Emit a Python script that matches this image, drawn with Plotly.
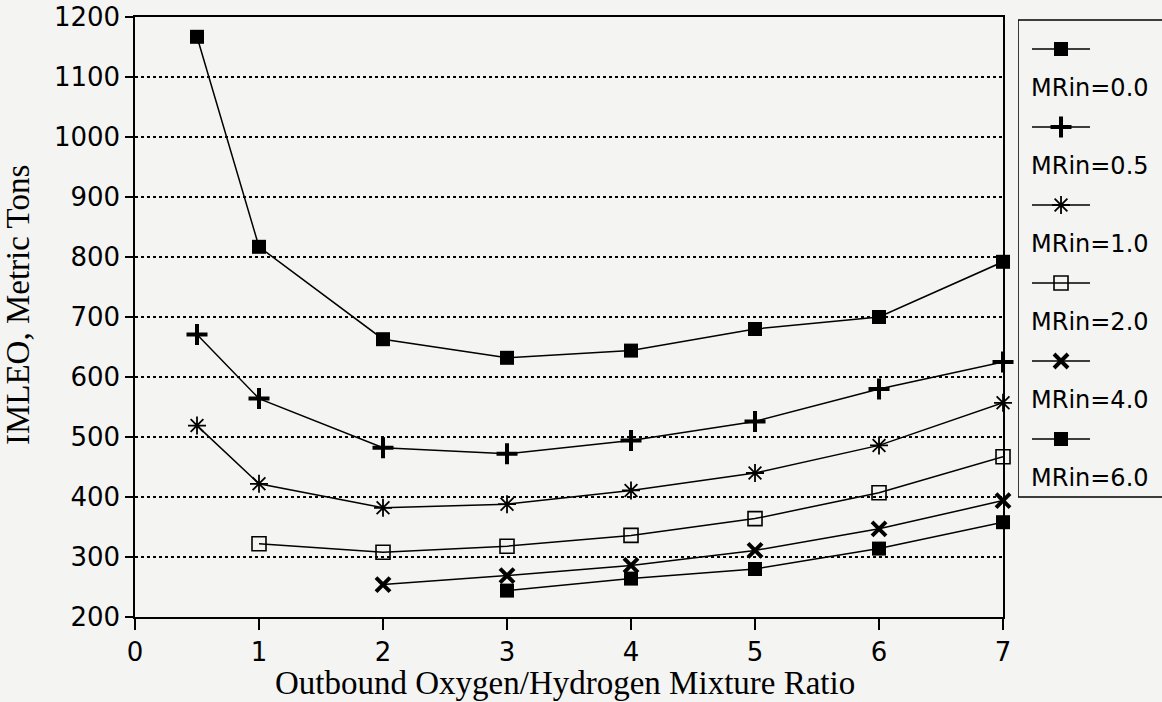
import plotly.graph_objects as go

# ---- data ----
series_names = ["MRin=0.0", "MRin=0.5", "MRin=1.0", "MRin=2.0", "MRin=4.0", "MRin=6.0"]
x_mr00 = [0.5, 1, 2, 3, 4, 5, 6, 7]
y_mr00 = [1167, 817, 663, 632, 644, 680, 700, 792]
x_mr05 = [0.5, 1, 2, 3, 4, 5, 6, 7]
y_mr05 = [671, 564, 482, 472, 494, 526, 580, 625]
x_mr10 = [0.5, 1, 2, 3, 4, 5, 6, 7]
y_mr10 = [519, 422, 382, 388, 411, 440, 486, 557]
x_mr20 = [1, 2, 3, 4, 5, 6, 7]
y_mr20 = [322, 308, 318, 336, 364, 407, 467]
x_mr40 = [2, 3, 4, 5, 6, 7]
y_mr40 = [254, 269, 286, 311, 347, 394]
x_mr60 = [3, 4, 5, 6, 7]
y_mr60 = [244, 264, 280, 314, 358]
x_ticks = [0, 1, 2, 3, 4, 5, 6, 7]
y_ticks = [200, 300, 400, 500, 600, 700, 800, 900, 1000, 1100, 1200]

xs = [x_mr00, x_mr05, x_mr10, x_mr20, x_mr40, x_mr60]
ys = [y_mr00, y_mr05, y_mr10, y_mr20, y_mr40, y_mr60]

# ---- styles ----
styles = [
    dict(symbol="square", size=14, line=dict(width=0, color="black")),
    dict(symbol="cross-thin", size=15, line=dict(width=4, color="black")),
    dict(symbol="asterisk-open", size=15, line=dict(width=1.8, color="black")),
    dict(symbol="square-open", size=14, line=dict(width=1.6, color="black")),
    dict(symbol="x-thin-open", size=14, line=dict(width=4, color="black")),
    dict(symbol="square", size=14, line=dict(width=0, color="black")),
]

BG = "#f4f4f2"
fig = go.Figure()

for name, xv, yv, st in zip(series_names, xs, ys, styles):
    fig.add_trace(go.Scatter(
        x=xv, y=yv, name=name, mode="lines+markers",
        line=dict(color="black", width=1.5),
        marker=dict(color="black", **st),
        showlegend=False, cliponaxis=False,
    ))

# ---- custom legend (symbol above label) in pixel-like axis x2/y2 ----
leg_sym_y = [49, 127, 205, 283, 361, 439]
leg_txt_y = [88, 166, 244, 322, 400, 478]
shapes = [dict(type="rect", xref="x2", yref="y2", x0=1018, x1=1175, y0=20, y1=497,
               line=dict(color="black", width=1.5), fillcolor="rgba(0,0,0,0)")]
annotations = []
for name, st, sy, ty in zip(series_names, styles, leg_sym_y, leg_txt_y):
    shapes.append(dict(type="line", xref="x2", yref="y2", x0=1032, x1=1090, y0=sy, y1=sy,
                       line=dict(color="black", width=1.5)))
    fig.add_trace(go.Scatter(
        x=[1061], y=[sy], mode="markers", xaxis="x2", yaxis="y2",
        marker=dict(color="black", **st), showlegend=False, cliponaxis=False,
        hoverinfo="skip",
    ))
    annotations.append(dict(xref="x2", yref="y2", x=1029, y=ty, text=name, showarrow=False,
                            xanchor="left", yanchor="middle",
                            font=dict(family="DejaVu Sans", size=24, color="black")))

annotations.append(dict(xref="paper", yref="paper", x=-0.1139, y=0.52,
                        text="IMLEO, Metric Tons", textangle=-90, showarrow=False,
                        xanchor="center", yanchor="middle",
                        font=dict(family="Liberation Serif", size=33, color="black")))
annotations.append(dict(xref="paper", yref="paper", x=0.4187, y=-0.11,
                        text="Outbound Oxygen/Hydrogen Mixture Ratio", showarrow=False,
                        xanchor="center", yanchor="middle",
                        font=dict(family="Liberation Serif", size=33, color="black")))

fig.update_layout(
    width=1162, height=702, autosize=False,
    margin=dict(l=135, r=0, t=17, b=85, pad=0, autoexpand=False),
    paper_bgcolor=BG, plot_bgcolor=BG,
    showlegend=False,
    shapes=shapes, annotations=annotations,
    xaxis=dict(domain=[0, 0.8452], range=[0, 7], tickvals=x_ticks, automargin=False,
               ticks="outside", ticklen=11, tickwidth=1.5, tickcolor="black",
               showline=True, linecolor="black", linewidth=1.5, mirror=True,
               showgrid=False, zeroline=False,
               tickfont=dict(family="DejaVu Sans", size=26, color="black")),
    yaxis=dict(range=[200, 1200], tickvals=y_ticks, automargin=False,
               ticks="outside", ticklen=8, tickwidth=1.5, tickcolor="black",
               showline=True, linecolor="black", linewidth=1.5, mirror=True,
               showgrid=True, gridcolor="black", gridwidth=1.5, griddash="dot",
               zeroline=False,
               tickfont=dict(family="DejaVu Sans", size=26, color="black")),
    xaxis2=dict(domain=[0.8598, 1], range=[1018, 1162], visible=False, anchor="y2",
                automargin=False),
    yaxis2=dict(domain=[0, 1], range=[617, 17], visible=False, anchor="x2",
                automargin=False),
)

fig.write_html(
    "out.html",
    config={"responsive": False, "displayModeBar": False},
    post_script="document.body.style.margin='0';document.body.style.overflow='hidden';"
                "document.body.style.background='" + BG + "';",
)
